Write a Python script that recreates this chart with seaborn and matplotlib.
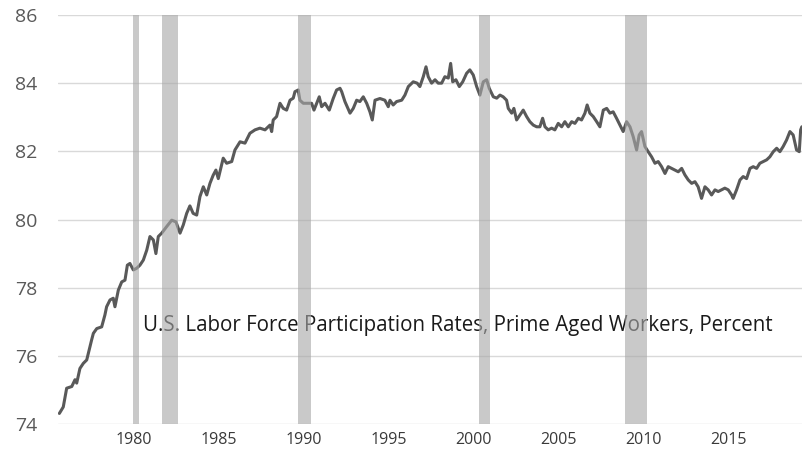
import matplotlib
matplotlib.use("Agg")
import matplotlib.pyplot as plt
import seaborn as sns
import pandas as pd

# Series (decimal year, percent)
years = [1975.61, 1975.84, 1976.04, 1976.34, 1976.53, 1976.63, 1976.82, 1977.02, 1977.22, 1977.41,
         1977.51, 1977.61, 1977.81, 1978.10, 1978.29, 1978.39, 1978.59, 1978.78, 1978.88, 1979.08,
         1979.28, 1979.47, 1979.61, 1979.76, 1979.96, 1980.16, 1980.35, 1980.55, 1980.75, 1980.94,
         1981.14, 1981.29, 1981.43, 1981.63, 1981.92, 1982.22, 1982.47, 1982.71, 1982.90, 1983.10,
         1983.29, 1983.48, 1983.69, 1983.88, 1984.08, 1984.28, 1984.47, 1984.66, 1984.82, 1984.96,
         1985.25, 1985.45, 1985.75, 1985.94, 1986.24, 1986.53, 1986.82, 1987.12, 1987.41, 1987.71,
         1988.00, 1988.10, 1988.19, 1988.39, 1988.59, 1988.78, 1988.98, 1989.18, 1989.37, 1989.47,
         1989.66, 1989.76, 1989.96, 1990.25, 1990.45, 1990.59, 1990.75, 1990.90, 1991.04, 1991.24,
         1991.49, 1991.72, 1991.92, 1992.12, 1992.22, 1992.41, 1992.71, 1992.90, 1993.10, 1993.29,
         1993.49, 1993.69, 1993.88, 1994.02, 1994.18, 1994.47, 1994.76, 1994.96, 1995.06, 1995.25,
         1995.45, 1995.75, 1995.94, 1996.14, 1996.43, 1996.66, 1996.82, 1997.02, 1997.18, 1997.31,
         1997.51, 1997.71, 1997.90, 1998.10, 1998.29, 1998.49, 1998.63, 1998.75, 1998.94, 1999.14,
         1999.34, 1999.57, 1999.76, 1999.96, 2000.16, 2000.35, 2000.55, 2000.75, 2000.90, 2001.14,
         2001.34, 2001.53, 2001.72, 2001.92, 2002.02, 2002.22, 2002.35, 2002.51, 2002.71, 2002.90,
         2003.10, 2003.29, 2003.49, 2003.69, 2003.88, 2004.04, 2004.18, 2004.37, 2004.57, 2004.76,
         2004.96, 2005.16, 2005.35, 2005.55, 2005.75, 2005.94, 2006.14, 2006.33, 2006.53, 2006.66,
         2006.82, 2007.02, 2007.22, 2007.41, 2007.61, 2007.81, 2008.00, 2008.19, 2008.39, 2008.59,
         2008.78, 2008.98, 2009.18, 2009.37, 2009.57, 2009.72, 2009.86, 2010.06, 2010.25, 2010.45,
         2010.65, 2010.84, 2011.04, 2011.24, 2011.43, 2011.63, 2011.82, 2012.02, 2012.22, 2012.41,
         2012.61, 2012.81, 2013.00, 2013.19, 2013.39, 2013.59, 2013.78, 2013.98, 2014.18, 2014.37,
         2014.57, 2014.76, 2014.96, 2015.16, 2015.25, 2015.45, 2015.65, 2015.84, 2016.04, 2016.24,
         2016.43, 2016.63, 2016.82, 2017.02, 2017.22, 2017.41, 2017.61, 2017.81, 2018.00, 2018.19,
         2018.39, 2018.59, 2018.78, 2018.98, 2019.14, 2019.22, 2019.29]

rates = [74.31, 74.50, 75.05, 75.10, 75.30, 75.20, 75.63, 75.78, 75.88, 76.27,
         76.47, 76.66, 76.80, 76.85, 77.20, 77.44, 77.64, 77.69, 77.44, 77.93,
         78.17, 78.22, 78.66, 78.71, 78.52, 78.57, 78.66, 78.81, 79.10, 79.50,
         79.40, 79.00, 79.50, 79.60, 79.79, 79.98, 79.93, 79.60, 79.84, 80.18,
         80.40, 80.18, 80.13, 80.67, 80.96, 80.72, 81.06, 81.30, 81.45, 81.20,
         81.80, 81.65, 81.70, 82.04, 82.28, 82.24, 82.53, 82.63, 82.68, 82.63,
         82.77, 82.58, 82.92, 83.02, 83.41, 83.26, 83.21, 83.50, 83.56, 83.75,
         83.80, 83.50, 83.41, 83.41, 83.41, 83.21, 83.41, 83.60, 83.31, 83.41,
         83.21, 83.55, 83.80, 83.85, 83.75, 83.46, 83.12, 83.26, 83.50, 83.46,
         83.60, 83.41, 83.16, 82.92, 83.50, 83.55, 83.50, 83.31, 83.50, 83.36,
         83.46, 83.50, 83.65, 83.90, 84.04, 84.00, 83.90, 84.19, 84.48, 84.19,
         84.00, 84.10, 84.00, 84.00, 84.19, 84.15, 84.58, 84.04, 84.10, 83.90,
         84.04, 84.29, 84.39, 84.24, 83.90, 83.65, 84.04, 84.10, 83.85, 83.60,
         83.56, 83.65, 83.60, 83.50, 83.26, 83.12, 83.26, 82.92, 83.07, 83.21,
         83.02, 82.87, 82.77, 82.72, 82.72, 82.97, 82.72, 82.63, 82.68, 82.63,
         82.82, 82.72, 82.87, 82.72, 82.87, 82.82, 82.97, 82.92, 83.12, 83.36,
         83.12, 83.02, 82.87, 82.72, 83.21, 83.26, 83.12, 83.16, 82.97, 82.77,
         82.58, 82.87, 82.72, 82.43, 82.04, 82.48, 82.58, 82.14, 81.99, 81.84,
         81.65, 81.70, 81.55, 81.35, 81.55, 81.50, 81.45, 81.40, 81.50, 81.31,
         81.16, 81.06, 81.11, 80.96, 80.62, 80.96, 80.87, 80.72, 80.87, 80.82,
         80.87, 80.92, 80.87, 80.72, 80.62, 80.87, 81.16, 81.26, 81.20, 81.50,
         81.55, 81.50, 81.65, 81.70, 81.75, 81.84, 81.99, 82.09, 81.99, 82.14,
         82.33, 82.58, 82.48, 82.04, 81.99, 82.63, 82.72]

# Recession shading (start, end) in decimal years
rec_start = [1979.96, 1981.63, 1989.66, 2000.29, 2008.88]
rec_end = [1980.29, 1982.61, 1990.39, 2000.94, 2010.19]

x_ticks = [1980, 1985, 1990, 1995, 2000, 2005, 2010, 2015]
y_ticks = [74, 76, 78, 80, 82, 84, 86]
title_text = "U.S. Labor Force Participation Rates, Prime Aged Workers, Percent"

df = pd.DataFrame({"year": years, "rate": rates})

sns.set_style("white")
plt.rcParams["font.family"] = ["Open Sans", "DejaVu Sans"]

fig = plt.figure(figsize=(8.02, 4.54), dpi=100)
ax = fig.add_axes([58 / 802, 1 - 424 / 454, 1 - 58 / 802, (424 - 15) / 454])

for yv in y_ticks:
    ax.axhline(yv, color="#d9d9d9", lw=1.0, zorder=0.5)

sns.lineplot(data=df, x="year", y="rate", ax=ax, color="#595959", lw=2.2, zorder=3)

ax.text(1980.53, 76.73, title_text, fontsize=14.8, color="#1a1a1a",
        ha="left", va="baseline", zorder=4)

# Recession bars drawn over the line and text, semi-transparent
for s, e in zip(rec_start, rec_end):
    ax.axvspan(s, e, color="#a8a8a8", alpha=0.62, lw=0, zorder=5)

ax.set_xlim(1975.53, 2019.3)
ax.set_ylim(74, 86)
ax.set_xticks(x_ticks)
ax.set_yticks(y_ticks)
ax.set_xticklabels([str(t) for t in x_ticks], fontsize=11.5, color="#3a3a3a")
ax.set_yticklabels([str(t) for t in y_ticks], fontsize=14, color="#595959")
ax.tick_params(axis="x", length=0, pad=6)
ax.tick_params(axis="y", length=0, pad=15)
ax.set_xlabel("")
ax.set_ylabel("")
for sp in ax.spines.values():
    sp.set_visible(False)

fig.savefig("out.png", dpi=100)
